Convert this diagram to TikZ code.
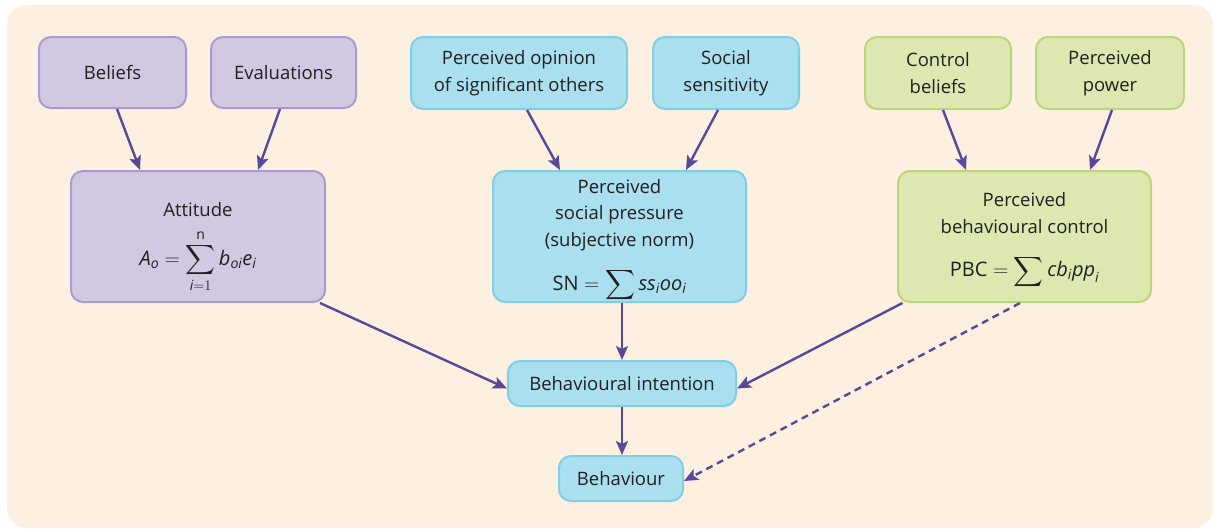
\documentclass[tikz,border=0pt]{standalone}
\usepackage{amsmath}
\usepackage{fontspec}
\setmainfont{Open Sans}
\usetikzlibrary{arrows.meta}
\definecolor{cream}{HTML}{FDF0E1}
\definecolor{pfill}{HTML}{D3C8E2}
\definecolor{pline}{HTML}{A79BD1}
\definecolor{bfill}{HTML}{AADFF0}
\definecolor{bline}{HTML}{7ECFE4}
\definecolor{gfill}{HTML}{DDE8B0}
\definecolor{gline}{HTML}{BCD57B}
\definecolor{arr}{HTML}{58489A}
\definecolor{txt}{HTML}{231F20}
\newcommand\mi[1]{\text{\itshape #1}}
\newcommand\fml{\fontsize{20}{24}\selectfont}
\tikzset{
  boxbase/.style={rounded corners=12pt, line width=2pt, align=center, inner sep=2pt,
    font=\fontsize{18.5}{26.5}\selectfont, text=txt},
  pbox/.style={boxbase, fill=pfill, draw=pline},
  bbox/.style={boxbase, fill=bfill, draw=bline},
  gbox/.style={boxbase, fill=gfill, draw=gline},
  boxtext/.style={align=center, inner sep=0pt, font=\fontsize{18.5}{26.5}\selectfont, text=txt},
  conn/.style={draw=arr, line width=2.4pt, -{Stealth[length=14pt,width=12pt,inset=3pt]}},
  dconn/.style={conn, dash pattern=on 7pt off 5pt}
}
\begin{document}
\begin{tikzpicture}[x=1pt,y=-1pt]
\useasboundingbox (0,0) rectangle (1215,531);
\fill[white] (0,0) rectangle (1215,531);
\fill[cream, rounded corners=20pt] (7,5) rectangle (1213,528);

\node[pbox, minimum width=147, minimum height=71] (bel) at (112.5,72.5) {Beliefs};
\node[pbox, minimum width=145, minimum height=71] (eva) at (283.5,72.5) {Evaluations};
\node[bbox, minimum width=216, minimum height=72] (opi) at (519,73) {Perceived opinion\\of significant others};
\node[bbox, minimum width=146, minimum height=72] (sen) at (726,73) {Social\\sensitivity};
\node[gbox, minimum width=146, minimum height=72] (cbe) at (938,73) {Control\\beliefs};
\node[gbox, minimum width=148, minimum height=72] (pow) at (1110,73) {Perceived\\power};

\node[pbox, minimum width=254, minimum height=131] (att) at (198,236.5) {};
\node[boxtext] (attt) at ([yshift=-11]att.center)
  {Attitude\\[12pt] {\fml$\displaystyle \mi{A}_{\mi{o}} = \sum_{\mi{i}=1}^{\text{n}} \mi{b}_{\mi{oi}}\mi{e}_{\mi{i}}$}};
\node[bbox, minimum width=253, minimum height=131] (snb) at (619.5,236.5) {};
\node[boxtext] (snbt) at ([yshift=-4]snb.center)
  {Perceived\\social pressure\\(subjective norm)\\[18pt] {\fml$\text{SN} = \displaystyle\sum \mi{ss}_{\mi{i}}\mi{oo}_{\mi{i}}$}};
\node[gbox, minimum width=253, minimum height=131] (pbc) at (1024.5,236.5) {};
\node[boxtext] (pbct) at ([yshift=-4]pbc.center)
  {Perceived\\behavioural control\\[17pt] {\fml$\text{PBC} = \displaystyle\sum \mi{cb}_{\mi{i}}\mi{pp}_{\mi{i}}$}};

\node[bbox, minimum width=228, minimum height=45] (bi) at (622,383.5) {Behavioural intention};
\node[bbox, minimum width=124, minimum height=45] (beh) at (621,478.5) {Behaviour};

\draw[conn] ([xshift=4.5]bel.south) -- ([xshift=-58]att.north);
\draw[conn] ([xshift=-3.5]eva.south) -- ([xshift=60]att.north);
\draw[conn] ([xshift=8]opi.south) -- ([xshift=-59.5]snb.north);
\draw[conn] ([xshift=-8]sen.south) -- ([xshift=66.5]snb.north);
\draw[conn] ([xshift=5]cbe.south) -- ([xshift=-58.5]pbc.north);
\draw[conn] ([xshift=2]pow.south) -- ([xshift=65.5]pbc.north);

\draw[conn] ([xshift=122]att.south) -- ([yshift=-5]bi.west);
\draw[conn] ([xshift=2.5]snb.south) -- (bi.north);
\draw[conn] ([xshift=-122]pbc.south) -- ([yshift=-5]bi.east);
\draw[conn] (bi.south) -- ([xshift=1]beh.north);
\draw[dconn] ([xshift=-4.5]pbc.south) -- ([yshift=-2.5]beh.east);
\end{tikzpicture}
\end{document}
